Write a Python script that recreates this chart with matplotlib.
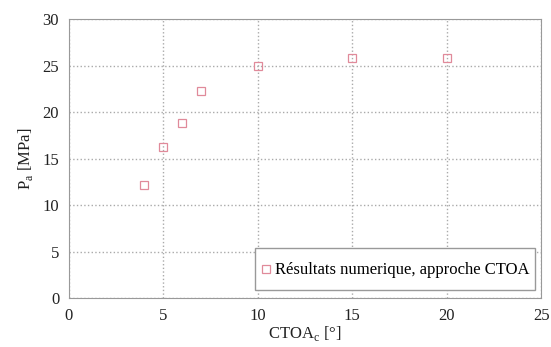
import numpy as np
import matplotlib.pyplot as plt

# données
ctoa = [4, 5, 6, 7, 10, 15, 20]
pa = [12.2, 16.2, 18.8, 22.3, 25.0, 25.8, 25.8]
xticks = [0, 5, 10, 15, 20, 25]
yticks = [0, 5, 10, 15, 20, 25, 30]

plt.rcParams['font.family'] = 'Liberation Serif'
plt.rcParams['font.size'] = 12
plt.rcParams['mathtext.fontset'] = 'custom'
plt.rcParams['mathtext.rm'] = 'Liberation Serif'

fig = plt.figure(figsize=(5.51, 3.47), dpi=100)
ax = fig.add_axes([0.125, 0.141, 0.857, 0.804])
ax.plot(ctoa, pa, ls='none', marker='s', ms=6, mfc='none', mec='#e08a9a', mew=0.9,
        label='Résultats numerique, approche CTOA')
ax.set_xlim(0, 25)
ax.set_ylim(0, 30)
ax.set_xticks(xticks)
ax.set_yticks(yticks)
ax.tick_params(length=0, pad=7, colors='#222222')
ax.grid(True, ls=':', color='#aaaaaa', lw=1.0)
for s in ax.spines.values():
    s.set_color('#999999')
ax.set_xlabel('CTOA$_\\mathregular{c}$ [°]', labelpad=0, color='#222222')
ax.set_ylabel('P$_\\mathregular{a}$ [MPa]', labelpad=5, color='#222222')
leg = ax.legend(loc='lower right', fancybox=False, edgecolor='#999999', framealpha=1,
                handletextpad=0.2, handlelength=0.7, handleheight=2.6, borderpad=0.3,
                borderaxespad=0, bbox_to_anchor=(0.987, 0.029))
# recentrer le marqueur de la légende sur le texte
h = leg.legend_handles[0]
h.set_ydata(np.asarray(h.get_ydata()) - 4.3)
fig.savefig('out.png', dpi=100)
